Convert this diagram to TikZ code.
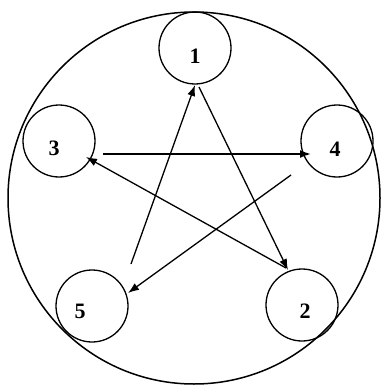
\documentclass[tikz,border=0pt]{standalone}
\usepackage{fontspec}
\setmainfont{Liberation Serif}
\usetikzlibrary{calc,arrows.meta}
\begin{document}
\begin{tikzpicture}[x=1pt,y=-1pt,
  smallcirc/.style={circle,draw,line width=1.3pt,minimum size=72pt,inner sep=0pt},
  digit/.style={font=\fontsize{22}{22}\selectfont\bfseries,inner sep=0pt},
  arr/.style={line width=1.3pt,-{Latex[length=11pt,width=8pt]}}]
\useasboundingbox (0,0) rectangle (384,385);
\node[circle,draw,line width=1.5pt,minimum size=372pt,inner sep=0pt] (big) at (194,198) {};
\node[smallcirc] (c1) at (195,48) {};
\node[smallcirc] (c2) at (302,305) {};
\node[smallcirc] (c3) at (59,141) {};
\node[smallcirc] (c4) at (337,141) {};
\node[smallcirc] (c5) at (92,306) {};
\node[digit] (l1) at (195,56) {1};
\node[digit] (l2) at (305,311) {2};
\node[digit] (l3) at (54,148) {3};
\node[digit] (l4) at (335,149) {4};
\node[digit] (l5) at (80,311) {5};
% arrow end points
\coordinate (t51) at ($(c5)+(39,-42)$);
\coordinate (h51) at ($(c1)+(0,37)$);
\coordinate (t12) at ($(c1)+(4,39)$);
\coordinate (h12) at ($(c2)+(-14,-35)$);
\coordinate (t34) at ($(c3)+(44,13)$);
\coordinate (h34) at ($(c4)+(-26,13)$);
\coordinate (t45) at ($(c4)+(-46,34)$);
\coordinate (h45) at ($(c5)+(36,-13)$);
\coordinate (t23) at ($(c2)+(-16,-37)$);
\coordinate (h23) at ($(c3)+(27,16)$);
\draw[arr] (t51) -- (h51);
\draw[arr] (t12) -- (h12);
\draw[arr,line width=1.8pt] (t34) -- (h34);
\draw[arr] (t45) -- (h45);
\draw[arr] (t23) -- (h23);
\end{tikzpicture}
\end{document}
